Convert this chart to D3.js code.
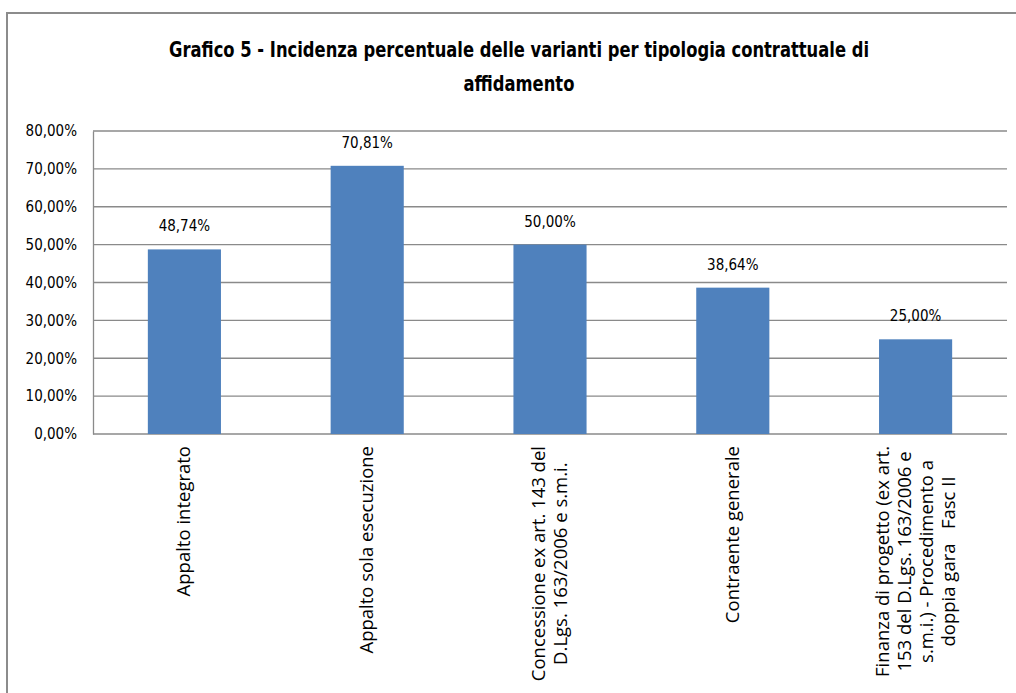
<!DOCTYPE html>
<html>
<head>
<meta charset="utf-8">
<script src="https://cdn.jsdelivr.net/npm/d3@7"></script>
<style>
  body { margin: 0; background: #fff; }
  svg { display: block; }
</style>
</head>
<body>
<svg id="chart" width="1016" height="693"></svg>
<script>
// data
const categories = [
    ["Appalto integrato"],
    ["Appalto sola esecuzione"],
    ["Concessione ex art. 143 del", "D.Lgs. 163/2006 e s.m.i."],
    ["Contraente generale"],
    ["Finanza di progetto (ex art.", "153 del D.Lgs. 163/2006 e", "s.m.i.) - Procedimento a", "doppia gara   Fasc II"]
];
const values = [48.74, 70.81, 50.00, 38.64, 25.00];
const tickValues = [0, 10, 20, 30, 40, 50, 60, 70, 80];
const titleLines = [
    "Grafico 5 - Incidenza percentuale delle varianti per tipologia contrattuale di",
    "affidamento"
];

const fmt = v => v.toFixed(2).replace(".", ",") + "%";
const narrow = "'DejaVu Sans Condensed', sans-serif";

const svg = d3.select("#chart");
const plot = {left: 93, top: 131, right: 1007, bottom: 434};

// chart frame
svg.append("rect")
    .attr("x", 7).attr("y", 13)
    .attr("width", 1020).attr("height", 700)
    .attr("fill", "none").attr("stroke", "#8c8c8c").attr("stroke-width", 2);

// title, squeezed to the width of the original
const title = svg.append("g").selectAll("text")
    .data(titleLines)
    .join("text")
    .attr("x", 519)
    .attr("y", (d, i) => 57 + i * 34)
    .attr("text-anchor", "middle")
    .attr("font-family", narrow)
    .attr("font-size", 21)
    .attr("font-weight", "bold")
    .attr("fill", "#000")
    .text(d => d);
const squeeze = 700 / title.node().getComputedTextLength();
title.each(function() {
    const w = this.getComputedTextLength();
    d3.select(this).attr("textLength", w * squeeze).attr("lengthAdjust", "spacingAndGlyphs");
});

const x = d3.scaleBand()
    .domain(d3.range(values.length))
    .range([plot.left, plot.right])
    .paddingInner(0.6)
    .paddingOuter(0.3);

const y = d3.scaleLinear()
    .domain([0, 80])
    .range([plot.bottom, plot.top]);

// gridlines
svg.append("g")
    .selectAll("line")
    .data(tickValues)
    .join("line")
    .attr("x1", plot.left).attr("x2", plot.right)
    .attr("y1", d => y(d)).attr("y2", d => y(d))
    .attr("stroke", "#8a8a8a").attr("stroke-width", 1.3);

// y axis
const yAxis = svg.append("g")
    .attr("transform", `translate(${plot.left},0)`)
    .call(d3.axisLeft(y).tickValues(tickValues).tickSize(0).tickPadding(16).tickFormat(fmt));
yAxis.select(".domain").attr("stroke", "#8a8a8a").attr("stroke-width", 1.3);
yAxis.selectAll("text")
    .attr("font-family", narrow)
    .attr("font-size", 15)
    .attr("fill", "#000");

// bars
svg.append("g")
    .selectAll("rect")
    .data(values)
    .join("rect")
    .attr("x", (d, i) => x(i))
    .attr("y", d => y(d))
    .attr("width", x.bandwidth())
    .attr("height", d => y(0) - y(d))
    .attr("fill", "#4f81bd");

// value labels
svg.append("g")
    .selectAll("text")
    .data(values)
    .join("text")
    .attr("x", (d, i) => x(i) + x.bandwidth() / 2)
    .attr("y", d => y(d) - 18)
    .attr("text-anchor", "middle")
    .attr("font-family", narrow)
    .attr("font-size", 15)
    .attr("fill", "#000")
    .text(fmt);

// category labels, rotated, block ends at the axis
const labelTop = 446;
categories.forEach((lines, i) => {
    const cx = x(i) + x.bandwidth() / 2;
    const g = svg.append("g");
    const texts = g.selectAll("text")
        .data(lines)
        .join("text")
        .attr("font-family", "'Open Sans', sans-serif")
        .attr("font-size", 18.5)
        .attr("fill", "#000")
        .attr("text-anchor", "middle")
        .style("white-space", "pre")
        .attr("y", (d, j) => (j - (lines.length - 1) / 2) * 22 + 6)
        .text(d => d);
    const w = d3.max(texts.nodes(), n => n.getComputedTextLength());
    texts.attr("x", -w / 2);
    g.attr("transform", `translate(${cx},${labelTop}) rotate(-90)`);
});
</script>
</body>
</html>
